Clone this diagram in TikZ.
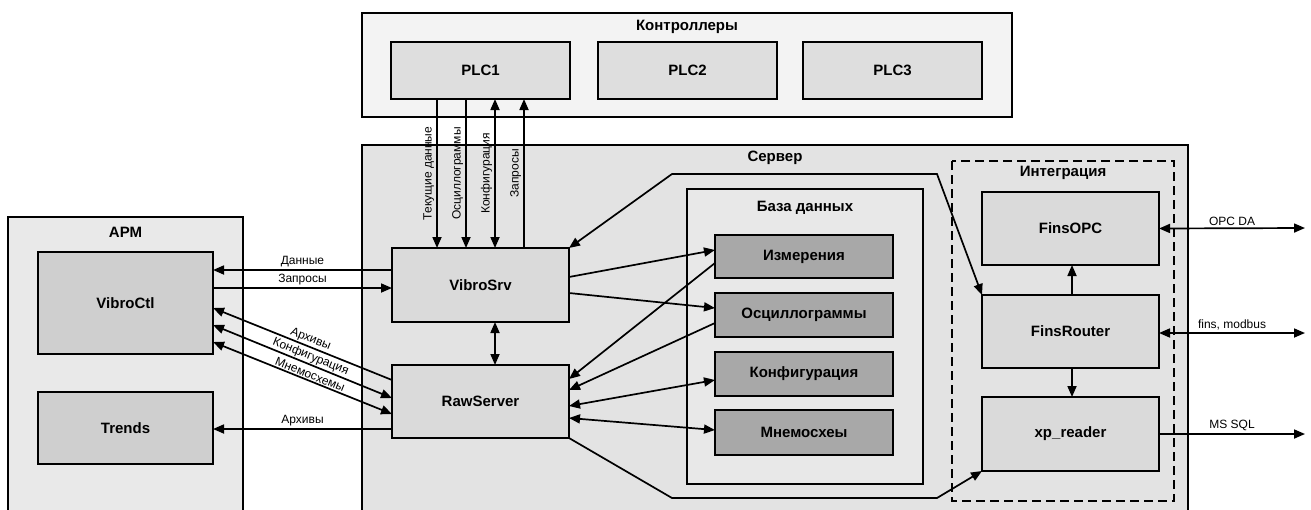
\documentclass[tikz,border=0pt]{standalone}
\usepackage{fontspec}
\setmainfont{Liberation Sans}
\usetikzlibrary{arrows.meta,calc}

\definecolor{ctlfill}{HTML}{F3F3F3}
\definecolor{plcfill}{HTML}{DEDEDE}
\definecolor{srvfill}{HTML}{E3E3E3}
\definecolor{modfill}{HTML}{DADADA}
\definecolor{dbfill}{HTML}{E8E8E8}
\definecolor{tblfill}{HTML}{A8A8A8}
\definecolor{armfill}{HTML}{E9E9E9}
\definecolor{clifill}{HTML}{CFCFCF}

\tikzset{
  box/.style={draw=black, line width=1.9pt, inner sep=0pt, outer sep=0pt,
              font=\bfseries\fontsize{15}{17}\selectfont},
  plcbox/.style={box, fill=plcfill, minimum width=179pt, minimum height=57pt},
  modbox/.style={box, fill=modfill, minimum width=177pt, minimum height=73pt},
  tblbox/.style={box, fill=tblfill, minimum width=178pt, minimum height=44pt},
  clibox/.style={box, fill=clifill, minimum width=175pt},
  area/.style={draw=black, line width=1.7pt},
  title/.style={font=\bfseries\fontsize{15}{17}\selectfont, inner sep=0pt},
  link/.style={line width=1.7pt, -{Triangle[length=11pt,width=9pt]}},
  rlink/.style={line width=1.7pt, {Triangle[length=11pt,width=9pt]}-},
  blink/.style={line width=1.7pt, {Triangle[length=11pt,width=9pt]}-{Triangle[length=11pt,width=9pt]}},
  lbl/.style={font=\fontsize{12}{14}\selectfont, inner sep=2pt},
  slbl/.style={font=\fontsize{12}{14}\selectfont, inner sep=1pt}
}

\begin{document}
\begin{tikzpicture}[x=1pt,y=-1pt]
\useasboundingbox (0,0) rectangle (1311,509);
\clip (0,0) rectangle (1311,509);
\fill[white] (0,0) rectangle (1311,509);

% ---- enclosing areas ----
\node[area, fill=ctlfill, minimum width=650pt, minimum height=104pt, inner sep=0pt] (ctl) at (687,65) {};
\node[title] (ctltitle) at (687,27) {Контроллеры};

\draw[area, fill=srvfill] (362,145) rectangle (1188,520);
\node[title] (srvtitle) at (775,158) {Сервер};

\draw[area, fill=armfill] (8,217) rectangle (243,520);
\node[title] (armtitle) at (125.5,232) {АРМ};

\node[area, fill=dbfill, minimum width=236pt, minimum height=295pt, inner sep=0pt] (db) at (805,336.5) {};
\node[title] (dbtitle) at (805,208) {База данных};

\draw[line width=1.7pt, dash pattern=on 9pt off 5pt] (952,161) rectangle (1174,501);
\node[title] (integtitle) at (1063,173) {Интеграция};

% ---- controllers ----
\node[plcbox] (plc1) at (480.5,70.5) {PLC1};
\node[plcbox] (plc2) at (687.5,70.5) {PLC2};
\node[plcbox] (plc3) at (892.5,70.5) {PLC3};

% ---- server modules ----
\node[modbox, minimum height=74pt] (vibrosrv) at (480.5,285) {VibroSrv};
\node[modbox] (rawserver) at (480.5,401.5) {RawServer};

\node[tblbox, minimum height=43pt] (meas) at (804,256.5) {Измерения};
\node[tblbox] (osc) at (804,315) {Осциллограммы};
\node[tblbox] (conf) at (804,374) {Конфигурация};
\node[tblbox, minimum height=45pt] (mnem) at (804,432.5) {Мнемосхеы};

\node[modbox] (finsopc) at (1070.5,228.5) {FinsOPC};
\node[modbox] (finsrouter) at (1070.5,331.5) {FinsRouter};
\node[modbox, minimum height=74pt] (xpreader) at (1070.5,434) {xp\_reader};

% ---- workstation ----
\node[clibox, minimum height=102pt] (vibroctl) at (125.5,303) {VibroCtl};
\node[clibox, minimum height=72pt] (trends) at (125.5,428) {Trends};

% ---- PLC1 <-> VibroSrv ----
\draw[rlink] ($(vibrosrv.north west)+(45,0)$) -- ($(plc1.south west)+(46,0)$)
  node[lbl, midway, sloped, above] {Текущие данные};
\draw[rlink] ($(vibrosrv.north west)+(74,0)$) -- ($(plc1.south west)+(75,0)$)
  node[lbl, midway, sloped, above] {Осциллограммы};
\draw[blink] ($(vibrosrv.north west)+(103,0)$) -- ($(plc1.south west)+(104,0)$)
  node[lbl, midway, sloped, above] {Конфигурация};
\draw[link] ($(vibrosrv.north west)+(132,0)$) -- ($(plc1.south west)+(133,0)$)
  node[lbl, midway, sloped, above] {Запросы};

% ---- workstation <-> server ----
\draw[rlink] ($(vibroctl.east)+(0,-33)$) -- ($(vibrosrv.west)+(0,-15)$)
  node[lbl, midway, above] {Данные};
\draw[link] ($(vibroctl.east)+(0,-15)$) -- ($(vibrosrv.west)+(0,3)$)
  node[lbl, midway, above] {Запросы};
\draw[rlink] ($(vibroctl.east)+(0,5)$) -- ($(rawserver.west)+(0,-21.5)$)
  node[slbl, pos=0.53, sloped, above] {Архивы};
\draw[blink] ($(vibroctl.east)+(0,22)$) -- ($(rawserver.west)+(0,-3.5)$)
  node[slbl, pos=0.53, sloped, above] {Конфигурация};
\draw[blink] ($(vibroctl.east)+(0,39)$) -- ($(rawserver.west)+(0,12.5)$)
  node[slbl, pos=0.53, sloped, above] {Мнемосхемы};
\draw[rlink] ($(trends.east)+(0,1)$) -- ($(rawserver.west)+(0,27.5)$)
  node[lbl, midway, above] {Архивы};

% ---- VibroSrv <-> RawServer ----
\draw[blink] ($(vibrosrv.south)+(14.5,0)$) -- ($(rawserver.north)+(14.5,0)$);

% ---- modules <-> database ----
\draw[link] ($(vibrosrv.east)+(0,-8)$) -- ($(meas.west)+(0,-6.5)$);
\draw[link] ($(vibrosrv.east)+(0,8)$) -- ($(osc.west)+(0,-7)$);
\draw[link] ($(meas.west)+(0,6.5)$) -- ($(rawserver.east)+(0,-22.5)$);
\draw[link] ($(osc.west)+(0,8)$) -- ($(rawserver.east)+(0,-11.5)$);
\draw[blink] ($(conf.west)+(0,6)$) -- ($(rawserver.east)+(0,4.5)$);
\draw[blink] ($(mnem.west)+(0,-2.5)$) -- ($(rawserver.east)+(0,16.5)$);

% ---- routes to the integration block ----
\coordinate (topA) at (672,174);
\coordinate (topB) at (937,174);
\coordinate (botA) at (672,498);
\coordinate (botB) at (937,498);
\draw[blink] (vibrosrv.north east) -- (topA) -- (topB) -- (finsrouter.north west);
\draw[link] (rawserver.south east) -- (botA) -- (botB) -- (xpreader.south west);

% ---- integration ----
\draw[link] ($(finsrouter.north)+(1.5,0)$) -- ($(finsopc.south)+(1.5,0)$);
\draw[link] ($(finsrouter.south)+(1.5,0)$) -- ($(xpreader.north)+(1.5,0)$);

\coordinate (extOPC) at (1305,228);
\coordinate (extFins) at (1305,333);
\coordinate (extSQL) at (1305,434);
\draw[blink] (finsopc.east) -- (extOPC) node[lbl, midway, above] {OPC DA};
\draw[blink] ($(finsrouter.east)+(0,1.5)$) -- (extFins) node[lbl, midway, above] {fins, modbus};
\draw[link] (xpreader.east) -- (extSQL) node[lbl, midway, above] {MS SQL};
\end{tikzpicture}
\end{document}
